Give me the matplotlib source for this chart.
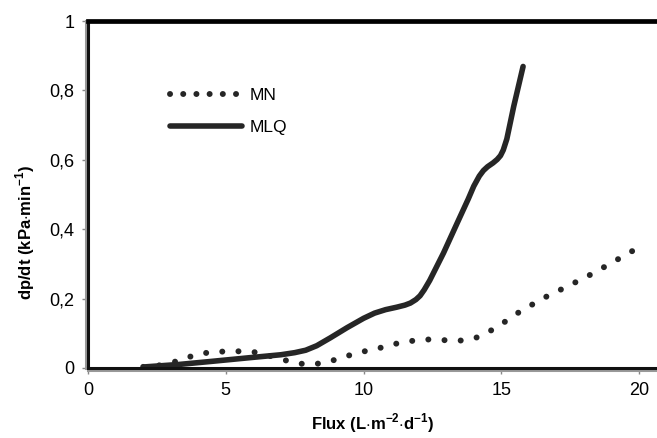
import matplotlib.pyplot as plt
import matplotlib.patheffects as pe
from matplotlib.lines import Line2D
from matplotlib.ticker import FuncFormatter

plt.rcParams['font.family'] = ['Liberation Sans', 'DejaVu Sans']
plt.rcParams['mathtext.fontset'] = 'custom'
plt.rcParams['mathtext.rm'] = 'Liberation Sans'
plt.rcParams['mathtext.bf'] = 'Liberation Sans:bold'

# MN series (dotted)
mn_x = [2.0, 2.56, 3.12, 3.68, 4.25, 4.84, 5.43, 6.01, 6.58, 7.16, 7.73, 8.32,
        8.90, 9.47, 10.04, 10.61, 11.19, 11.77, 12.36, 12.94, 13.53, 14.12,
        14.65, 15.15, 15.63, 16.15, 16.67, 17.19, 17.72, 18.24, 18.76, 19.27, 19.8]
mn_y = [0.003, 0.007, 0.017, 0.032, 0.043, 0.047, 0.048, 0.046, 0.035, 0.022,
        0.012, 0.012, 0.022, 0.036, 0.048, 0.058, 0.070, 0.078, 0.082, 0.080,
        0.079, 0.088, 0.109, 0.134, 0.160, 0.184, 0.207, 0.227, 0.248, 0.269,
        0.292, 0.315, 0.339]

# MLQ series (solid)
mlq_x = [2.06, 3.3, 4.5, 5.8, 7.0, 7.5, 7.9, 8.3, 8.8, 9.4, 10.0, 10.4, 10.8,
         11.2, 11.5, 11.7, 11.9, 12.05, 12.2, 12.4, 12.9, 13.4, 13.8, 14.0,
         14.2, 14.35, 14.5, 14.7, 14.85, 14.97, 15.07, 15.2, 15.45, 15.79]
mlq_y = [0.003, 0.010, 0.019, 0.029, 0.038, 0.044, 0.051, 0.064, 0.087, 0.116,
         0.143, 0.158, 0.168, 0.175, 0.181, 0.187, 0.197, 0.208, 0.225, 0.252,
         0.331, 0.418, 0.487, 0.524, 0.553, 0.569, 0.580, 0.591, 0.601, 0.612,
         0.628, 0.660, 0.754, 0.869]

x_ticks = [0, 5, 10, 15, 20]
y_ticks = [0, 0.2, 0.4, 0.6, 0.8, 1.0]

dark = '#262626'

fig = plt.figure(figsize=(6.57, 4.38), dpi=100)
ax = fig.add_axes([0.134, 0.160, 0.866, 0.792])

ax.plot(mn_x, mn_y, color=dark, lw=4.3, linestyle=(0, (0.01, 2.7)),
        dash_capstyle='round')
ax.plot(mlq_x, mlq_y, color=dark, lw=4.0, solid_capstyle='round',
        solid_joinstyle='round')

ax.set_xlim(0, 20.65)
ax.set_ylim(0, 1)
ax.set_xticks(x_ticks)
ax.set_yticks(y_ticks)
ax.yaxis.set_major_formatter(FuncFormatter(
    lambda v, p: ('%g' % round(v, 1)).replace('.', ',')))
ax.tick_params(direction='out', length=4, width=1, color='#888888',
               labelsize=13, pad=6)

for s in ['left', 'bottom']:
    ax.spines[s].set_color('#111111')
    ax.spines[s].set_linewidth(2.2)
ax.spines['left'].set_path_effects(
    [pe.Stroke(linewidth=2.2, foreground='#999999', offset=(-1.8, 0)), pe.Normal()])
ax.spines['bottom'].set_path_effects(
    [pe.Stroke(linewidth=2.2, foreground='#999999', offset=(0, -1.8)), pe.Normal()])
ax.spines['top'].set_color('black')
ax.spines['top'].set_linewidth(3.4)
ax.spines['right'].set_visible(False)

ax.set_xlabel(r'Flux (L$\cdot$m$^{\mathbf{-2}}$$\cdot$d$^{\mathbf{-1}}$)',
              fontsize=12, fontweight='bold')
ax.set_ylabel(r'dp/dt (kPa$\cdot$min$^{\mathbf{-1}}$)',
              fontsize=12, fontweight='bold')
ax.xaxis.set_label_coords(0.5, -0.125)
ax.yaxis.set_label_coords(-0.09, 0.39)

handles = [Line2D([], [], color=dark, lw=4.3, linestyle=(0, (0.01, 2.2)),
                  dash_capstyle='round'),
           Line2D([], [], color=dark, lw=4.0, solid_capstyle='round')]
ax.legend(handles, ['MN', 'MLQ'], loc='upper left', frameon=False,
          bbox_to_anchor=(0.258, 0.80), bbox_transform=fig.transFigure,
          fontsize=12.5, handlelength=4.2, handletextpad=0.4,
          labelspacing=1.0, borderpad=0, borderaxespad=0)

fig.savefig('out.png', dpi=100)
